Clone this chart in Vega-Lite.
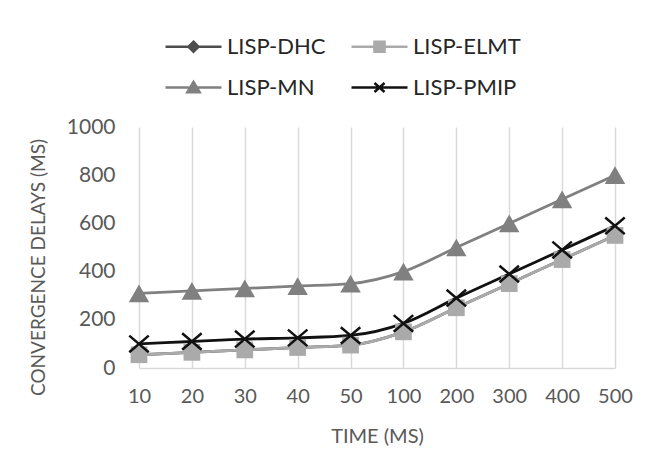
{
  "$schema": "https://vega.github.io/schema/vega-lite/v6.json",
  "width": 476,
  "height": 241,
  "autosize": {"type": "none"},
  "padding": {"left": 139, "top": 127, "right": 43, "bottom": 95},
  "background": "white",
  "config": {
    "view": {"stroke": null},
    "font": "Lato"
  },
  "data": {
    "values": [
      {"time": "10", "series": "LISP-DHC", "delay": 55},
      {"time": "20", "series": "LISP-DHC", "delay": 65},
      {"time": "30", "series": "LISP-DHC", "delay": 75},
      {"time": "40", "series": "LISP-DHC", "delay": 85},
      {"time": "50", "series": "LISP-DHC", "delay": 95},
      {"time": "100", "series": "LISP-DHC", "delay": 150},
      {"time": "200", "series": "LISP-DHC", "delay": 250},
      {"time": "300", "series": "LISP-DHC", "delay": 350},
      {"time": "400", "series": "LISP-DHC", "delay": 450},
      {"time": "500", "series": "LISP-DHC", "delay": 550},
      {"time": "10", "series": "LISP-ELMT", "delay": 55},
      {"time": "20", "series": "LISP-ELMT", "delay": 65},
      {"time": "30", "series": "LISP-ELMT", "delay": 75},
      {"time": "40", "series": "LISP-ELMT", "delay": 85},
      {"time": "50", "series": "LISP-ELMT", "delay": 95},
      {"time": "100", "series": "LISP-ELMT", "delay": 150},
      {"time": "200", "series": "LISP-ELMT", "delay": 250},
      {"time": "300", "series": "LISP-ELMT", "delay": 350},
      {"time": "400", "series": "LISP-ELMT", "delay": 450},
      {"time": "500", "series": "LISP-ELMT", "delay": 550},
      {"time": "10", "series": "LISP-MN", "delay": 310},
      {"time": "20", "series": "LISP-MN", "delay": 320},
      {"time": "30", "series": "LISP-MN", "delay": 330},
      {"time": "40", "series": "LISP-MN", "delay": 340},
      {"time": "50", "series": "LISP-MN", "delay": 350},
      {"time": "100", "series": "LISP-MN", "delay": 400},
      {"time": "200", "series": "LISP-MN", "delay": 500},
      {"time": "300", "series": "LISP-MN", "delay": 600},
      {"time": "400", "series": "LISP-MN", "delay": 700},
      {"time": "500", "series": "LISP-MN", "delay": 800},
      {"time": "10", "series": "LISP-PMIP", "delay": 100},
      {"time": "20", "series": "LISP-PMIP", "delay": 110},
      {"time": "30", "series": "LISP-PMIP", "delay": 120},
      {"time": "40", "series": "LISP-PMIP", "delay": 125},
      {"time": "50", "series": "LISP-PMIP", "delay": 135},
      {"time": "100", "series": "LISP-PMIP", "delay": 185},
      {"time": "200", "series": "LISP-PMIP", "delay": 290},
      {"time": "300", "series": "LISP-PMIP", "delay": 390},
      {"time": "400", "series": "LISP-PMIP", "delay": 490},
      {"time": "500", "series": "LISP-PMIP", "delay": 590}
    ]
  },
  "encoding": {
    "x": {
      "field": "time",
      "type": "ordinal",
      "sort": null,
      "scale": {"type": "point", "padding": 0},
      "axis": {
        "title": "TIME (MS)",
        "titleFontSize": 20,
        "titleFontWeight": "normal",
        "titleColor": "#595959",
        "titlePadding": 20,
        "labelAngle": 0,
        "labelFontSize": 20,
        "labelColor": "#595959",
        "labelPadding": 18,
        "ticks": false,
        "domainColor": "#d9d9d9",
        "domainWidth": 1.5,
        "grid": true,
        "gridColor": "#d9d9d9",
        "gridWidth": 1.5
      }
    },
    "y": {
      "field": "delay",
      "type": "quantitative",
      "scale": {"domain": [0, 1000]},
      "axis": {
        "title": "CONVERGENCE DELAYS (MS)",
        "titleFontSize": 19,
        "titleFontWeight": "normal",
        "titleColor": "#595959",
        "titlePadding": 18,
        "titleY": 140,
        "values": [0, 200, 400, 600, 800, 1000],
        "format": "d",
        "labelFontSize": 21,
        "labelColor": "#595959",
        "labelPadding": 24,
        "ticks": false,
        "domain": false,
        "grid": false
      }
    }
  },
  "layer": [
    {
      "mark": {"type": "line", "strokeWidth": 2.8, "interpolate": "monotone"},
      "encoding": {
        "order": {"field": "series"},
        "color": {
          "field": "series",
          "type": "nominal",
          "scale": {
            "domain": ["LISP-DHC", "LISP-ELMT", "LISP-MN", "LISP-PMIP"],
            "range": ["#4d4d4d", "#aaaaaa", "#808080", "#111111"]
          },
          "legend": {
            "orient": "none",
            "legendX": 25,
            "legendY": -110,
            "columns": 2,
            "direction": "horizontal",
            "title": null,
            "labelFontSize": 22,
            "labelColor": "#262626",
            "labelOffset": 4,
            "symbolSize": 3136,
            "symbolType": "stroke",
            "columnPadding": 20,
            "rowPadding": -14,
            "encode": {
              "symbols": {
                "update": {
                  "strokeWidth": {"value": 2.5},
                  "stroke": {"signal": "scale('color', datum.value)"},
                  "fill": {"signal": "scale('color', datum.value)"},
                  "opacity": {"value": 1},
                  "shape": {"signal": "datum.value == 'LISP-DHC' ? 'M-1,0H1M0,-0.18L0.18,0L0,0.18L-0.18,0Z' : datum.value == 'LISP-ELMT' ? 'M-1,0H1M-0.18,-0.18H0.18V0.18H-0.18Z' : datum.value == 'LISP-MN' ? 'M-1,0H1M0,-0.2L0.22,0.17H-0.22Z' : 'M-1,0H1M-0.18,-0.16L0.18,0.16M-0.18,0.16L0.18,-0.16'"}
                }
              }
            }
          }
        }
      }
    },
    {
      "transform": [{"filter": "datum.series == 'LISP-DHC'"}],
      "mark": {"type": "point", "shape": "diamond", "filled": true, "opacity": 1, "size": 120, "color": "#4d4d4d"}
    },
    {
      "transform": [{"filter": "datum.series == 'LISP-ELMT'"}],
      "mark": {"type": "point", "shape": "square", "filled": true, "opacity": 1, "size": 280, "color": "#aaaaaa"}
    },
    {
      "transform": [{"filter": "datum.series == 'LISP-MN'"}],
      "mark": {"type": "point", "shape": "triangle-up", "filled": true, "opacity": 1, "size": 420, "color": "#808080"}
    },
    {
      "transform": [{"filter": "datum.series == 'LISP-PMIP'"}],
      "mark": {"type": "point", "shape": "M-1,-0.85L1,0.85M-1,0.85L1,-0.85", "filled": false, "opacity": 1, "size": 380, "strokeWidth": 2.5, "color": "#111111"}
    }
  ]
}
